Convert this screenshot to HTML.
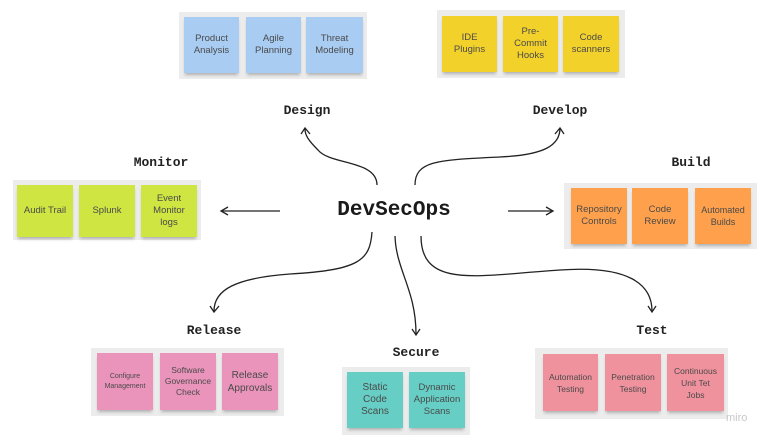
<!DOCTYPE html>
<html><head><meta charset="utf-8"><style>
body{margin:0;width:768px;height:441px;background:#fff;position:relative;overflow:hidden;font-family:"Liberation Sans",sans-serif}
.f{position:absolute;background:#ececec}
.s{position:absolute;display:flex;align-items:center;justify-content:center;text-align:center;font-size:9.5px;line-height:12px;color:#4a4a4a;box-shadow:0 3px 3px -1px rgba(0,0,0,.25)}
.l{position:absolute;font-family:"Liberation Mono",monospace;font-weight:bold;font-size:13px;color:#222;transform:translateX(-50%)}
</style></head><body>
<div class="f" style="left:179px;top:12px;width:188px;height:67px"></div>
<div class="s" style="left:184px;top:17px;width:55px;height:56px;background:#a9ccf3">Product<br>Analysis</div>
<div class="s" style="left:246px;top:17px;width:55px;height:56px;background:#a9ccf3">Agile<br>Planning</div>
<div class="s" style="left:306px;top:17px;width:57px;height:56px;background:#a9ccf3">Threat<br>Modeling</div>

<div class="f" style="left:437px;top:10px;width:188px;height:68px"></div>
<div class="s" style="left:442px;top:16px;width:55px;height:56px;background:#f3d12b">IDE<br>Plugins</div>
<div class="s" style="left:503px;top:16px;width:55px;height:56px;background:#f3d12b">Pre-<br>Commit<br>Hooks</div>
<div class="s" style="left:563px;top:16px;width:56px;height:56px;background:#f3d12b">Code<br>scanners</div>

<div class="f" style="left:13px;top:180px;width:188px;height:60px"></div>
<div class="s" style="left:17px;top:185px;width:56px;height:52px;background:#cee542">Audit Trail</div>
<div class="s" style="left:79px;top:185px;width:56px;height:52px;background:#cee542">Splunk</div>
<div class="s" style="left:141px;top:185px;width:56px;height:52px;background:#cee542">Event<br>Monitor<br>logs</div>

<div class="f" style="left:564px;top:183px;width:193px;height:66px"></div>
<div class="s" style="left:571px;top:188px;width:56px;height:56px;background:#ffa04c">Repository<br>Controls</div>
<div class="s" style="left:632px;top:188px;width:56px;height:56px;background:#ffa04c">Code<br>Review</div>
<div class="s" style="left:695px;top:188px;width:56px;height:56px;background:#ffa04c;font-size:9px">Automated<br>Builds</div>

<div class="f" style="left:91px;top:348px;width:193px;height:68px"></div>
<div class="s" style="left:97px;top:353px;width:56px;height:57px;background:#ea94bb;font-size:7px;line-height:10px">Configure<br>Management</div>
<div class="s" style="left:160px;top:353px;width:56px;height:57px;background:#ea94bb;font-size:8.5px;line-height:11px">Software<br>Governance<br>Check</div>
<div class="s" style="left:222px;top:353px;width:56px;height:57px;background:#ea94bb;font-size:10px;line-height:13px">Release<br>Approvals</div>

<div class="f" style="left:342px;top:367px;width:128px;height:68px"></div>
<div class="s" style="left:347px;top:372px;width:56px;height:56px;background:#66cec4;font-size:10px;line-height:12px">Static<br>Code<br>Scans</div>
<div class="s" style="left:409px;top:372px;width:56px;height:56px;background:#66cec4">Dynamic<br>Application<br>Scans</div>

<div class="f" style="left:535px;top:348px;width:193px;height:71px"></div>
<div class="s" style="left:543px;top:354px;width:55px;height:57px;background:#f0929d;font-size:8.5px">Automation<br>Testing</div>
<div class="s" style="left:605px;top:354px;width:56px;height:57px;background:#f0929d;font-size:8.5px">Penetration<br>Testing</div>
<div class="s" style="left:667px;top:354px;width:57px;height:57px;background:#f0929d;font-size:8.5px">Continuous<br>Unit Tet<br>Jobs</div>

<div class="l" style="left:307px;top:103px">Design</div>
<div class="l" style="left:560px;top:103px">Develop</div>
<div class="l" style="left:161px;top:155px">Monitor</div>
<div class="l" style="left:691px;top:155px">Build</div>
<div class="l" style="left:214px;top:323px">Release</div>
<div class="l" style="left:416px;top:345px">Secure</div>
<div class="l" style="left:652px;top:323px">Test</div>
<div class="l" style="left:394px;top:199px;font-size:21px;color:#1a1a1a">DevSecOps</div>
<div style="position:absolute;left:726px;top:412px;font-size:11px;color:#c8c8c8">miro</div>

<svg width="768" height="441" style="position:absolute;left:0;top:0" fill="none" stroke="#222" stroke-width="1.3">
<path d="M377 185 C377 160 330 165 318 150 C308 140 305 135 305 129"/><path d="M301 134 L305 128 L310 134"/>
<path d="M415 185 C415 160 440 160 500 157 C545 155 560 145 560 128"/><path d="M555 134 L560 128 L564 134"/>
<path d="M280 211 L222 211"/><path d="M228 207 L221 211 L228 215"/>
<path d="M508 211 L552 211"/><path d="M546 207 L553 211 L546 215"/>
<path d="M372 232 C370 260 360 270 290 274 C235 278 214 290 214 311"/><path d="M210 306 L214 312 L219 306"/>
<path d="M395 236 C396 270 416 290 416 334"/><path d="M412 329 L416 335 L420 329"/>
<path d="M421 236 C421 290 480 275 560 270 C630 265 652 285 652 311"/><path d="M648 306 L652 312 L656 306"/>
</svg>
</body></html>
